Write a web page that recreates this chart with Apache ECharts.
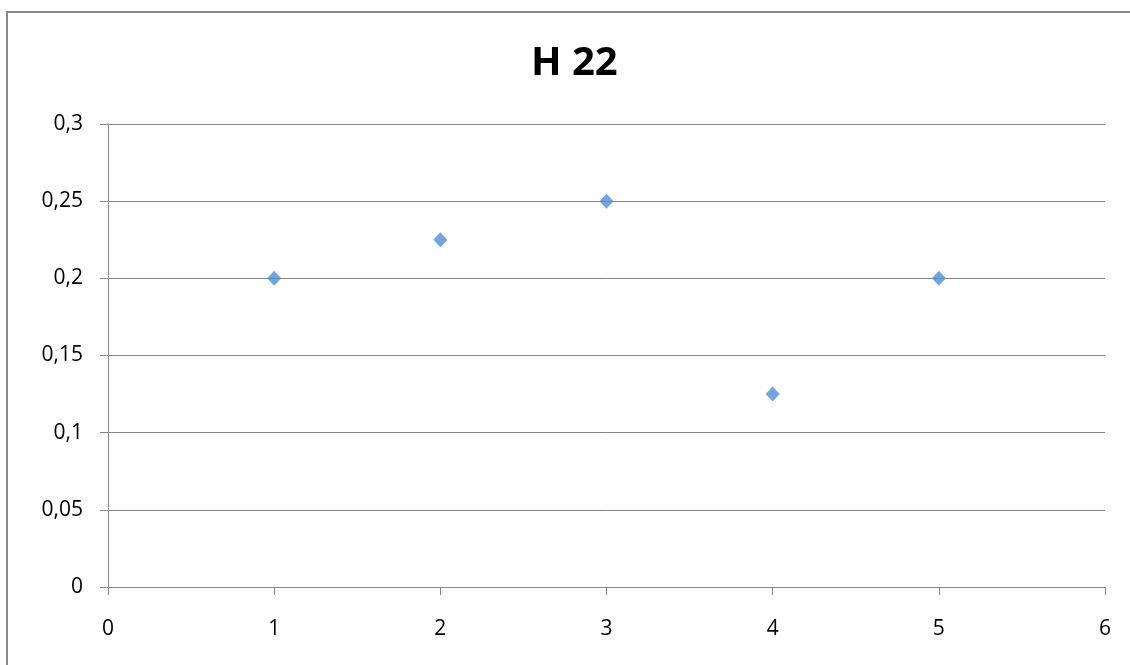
<!DOCTYPE html>
<html>
<head>
<meta charset="utf-8">
<script src="https://cdn.jsdelivr.net/npm/echarts@6/dist/echarts.min.js"></script>
<style>
  html, body { margin: 0; padding: 0; background: #fff; }
  #chart { width: 1130px; height: 665px; }
</style>
</head>
<body>
<div id="chart"></div>
<script>
// Series H 22: x positions and measured values
const xValues = [1, 2, 3, 4, 5];
const yValues = [0.2, 0.225, 0.25, 0.125, 0.2];
const chartTitle = 'H 22';

const points = xValues.map((x, i) => [x, yValues[i]]);
const gridColor = '#868686';
const labelFont = "'Open Sans', 'Liberation Sans', sans-serif";

const chart = echarts.init(document.getElementById('chart'), null, { renderer: 'canvas' });
chart.setOption({
  animation: false,
  backgroundColor: '#fff',
  title: {
    text: chartTitle,
    left: 526,
    top: 39,
    textStyle: { fontFamily: labelFont, fontWeight: 'bold', fontSize: 40, color: '#000' }
  },
  graphic: [{
    type: 'rect',
    shape: { x: 7, y: 12, width: 1140, height: 680 },
    style: { fill: 'none', stroke: '#888', lineWidth: 2 },
    silent: true
  }],
  grid: { left: 108, right: 25, top: 124, bottom: 78 },
  xAxis: {
    type: 'value',
    min: 0, max: 6, interval: 1,
    axisLine: { show: true, lineStyle: { color: gridColor, width: 1 } },
    axisTick: { show: true, length: 8, lineStyle: { color: gridColor } },
    splitLine: { show: false },
    axisLabel: { color: '#000', fontFamily: labelFont, fontSize: 21, margin: 32 }
  },
  yAxis: {
    type: 'value',
    min: 0, max: 0.3, interval: 0.05,
    axisLine: { show: true, lineStyle: { color: gridColor, width: 1 } },
    axisTick: { show: true, length: 8, lineStyle: { color: gridColor } },
    splitLine: { show: true, lineStyle: { color: gridColor, width: 1 } },
    axisLabel: {
      color: '#000', fontFamily: labelFont, fontSize: 21, margin: 25,
      formatter: v => String(Math.round(v * 1000) / 1000).replace('.', ',')
    }
  },
  series: [{
    type: 'scatter',
    data: points,
    symbol: 'diamond',
    symbolSize: [14, 15],
    itemStyle: { color: '#4F8FD3' }
  }]
});
</script>
</body>
</html>
